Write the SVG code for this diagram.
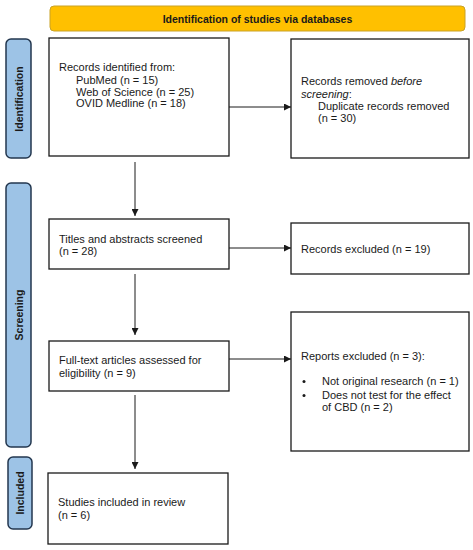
<svg xmlns="http://www.w3.org/2000/svg" width="473" height="550" viewBox="0 0 473 550">
<style>
.box{fill:#fff;stroke:#1a1a1a;stroke-width:1.3}
.side{fill:#9DC3E6;stroke:#23374f;stroke-width:1.5}
.t{font-family:"Liberation Sans",Arial,sans-serif;font-size:11px;fill:#1a1a1a}
.st{font-family:"Liberation Sans",Arial,sans-serif;font-size:10.5px;font-weight:bold;fill:#1a1a1a;text-anchor:middle}
.c{stroke:#1a1a1a;stroke-width:1;fill:none;marker-end:url(#ah)}
</style>
<defs>
<marker id="ah" viewBox="0 0 10 10" refX="10" refY="5" markerWidth="7" markerHeight="7" markerUnits="userSpaceOnUse" orient="auto">
<path d="M0,0 L10,5 L0,10 Z" fill="#1a1a1a"/>
</marker>
</defs>
<rect width="473" height="550" fill="#fff"/>
<g id="banner">
<rect x="50" y="6" width="415" height="25" rx="4" fill="#FFC000" stroke="#C9A227" stroke-width="1"/>
<text x="257.5" y="22.5" class="st" font-size="11">Identification of studies via databases</text>
</g>
<g id="side-identification">
<rect x="6" y="39" width="25" height="119" rx="5" class="side"/>
<text class="st" transform="translate(22.5,99) rotate(-90)">Identification</text>
</g>
<g id="side-screening">
<rect x="6" y="183" width="25" height="264" rx="5" class="side"/>
<text class="st" transform="translate(22.5,315) rotate(-90)">Screening</text>
</g>
<g id="side-included">
<rect x="8" y="457" width="24" height="72" rx="5" class="side"/>
<text class="st" transform="translate(23.5,493) rotate(-90)">Included</text>
</g>
<g id="records-identified">
<rect x="49" y="38" width="180" height="118" class="box"/>
<text class="t" x="59" y="71">Records identified from:</text>
<text class="t" x="76" y="84">PubMed (n = 15)</text>
<text class="t" x="76" y="95.5">Web of Science (n = 25)</text>
<text class="t" x="76" y="107">OVID Medline (n = 18)</text>
</g>
<g id="records-removed">
<rect x="291" y="39" width="178" height="119" class="box"/>
<text class="t" x="301" y="85">Records removed <tspan font-style="italic">before</tspan></text>
<text class="t" x="301" y="98"><tspan font-style="italic">screening</tspan>:</text>
<text class="t" x="318" y="110">Duplicate records removed</text>
<text class="t" x="318" y="121.5">(n = 30)</text>
</g>
<g id="titles-screened">
<rect x="49" y="219" width="180" height="50" class="box"/>
<text class="t" x="59" y="243">Titles and abstracts screened</text>
<text class="t" x="59" y="255">(n = 28)</text>
</g>
<g id="records-excluded">
<rect x="291" y="223" width="178" height="51" class="box"/>
<text class="t" x="301" y="253">Records excluded (n = 19)</text>
</g>
<g id="fulltext">
<rect x="49" y="341" width="180" height="50" class="box"/>
<text class="t" x="59" y="364">Full-text articles assessed for</text>
<text class="t" x="59" y="377">eligibility (n = 9)</text>
</g>
<g id="reports-excluded">
<rect x="291" y="312" width="178" height="139" class="box"/>
<text class="t" x="301" y="360">Reports excluded (n = 3):</text>
<circle cx="304" cy="381.5" r="1.5" fill="#1a1a1a"/>
<text class="t" x="322" y="385">Not original research (n = 1)</text>
<circle cx="304" cy="395.5" r="1.5" fill="#1a1a1a"/>
<text class="t" x="322" y="399">Does not test for the effect</text>
<text class="t" x="322" y="411">of CBD (n = 2)</text>
</g>
<g id="studies-included">
<rect x="48" y="473" width="180" height="71" class="box"/>
<text class="t" x="58" y="506">Studies included in review</text>
<text class="t" x="58" y="519">(n = 6)</text>
</g>
<g id="connectors">
<line x1="229" y1="107" x2="291" y2="107" class="c"/>
<line x1="135" y1="162" x2="135" y2="216" class="c"/>
<line x1="229" y1="248" x2="291" y2="248" class="c"/>
<line x1="135" y1="274" x2="135" y2="335" class="c"/>
<line x1="229" y1="359" x2="291" y2="359" class="c"/>
<line x1="135" y1="395" x2="135" y2="469" class="c"/>
</g>
</svg>
